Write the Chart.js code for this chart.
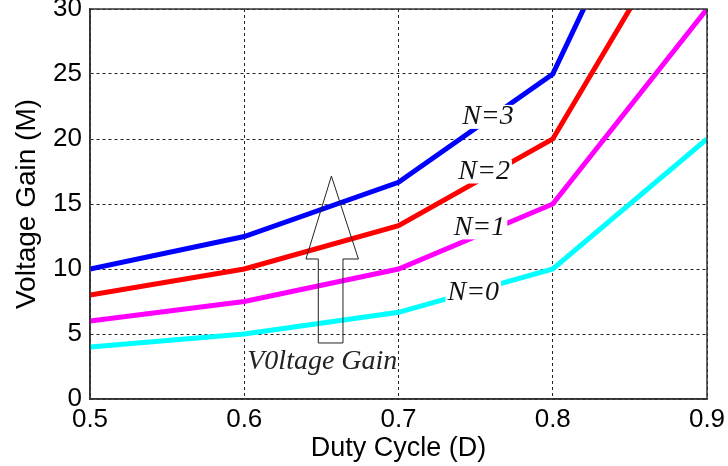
<!DOCTYPE html>
<html>
<head>
<meta charset="utf-8">
<script src="https://cdn.jsdelivr.net/npm/chart.js@4"></script>
<style>
  body { margin: 0; background: #fff; }
  #box { width: 728px; height: 466px; }
</style>
</head>
<body>
<div id="box"><canvas id="grafico"></canvas></div>
<script>
const duty = [0.5, 0.6, 0.7, 0.8, 0.9];
const gainN0 = [4, 5, 6.67, 10, 20];
const gainN1 = [6, 7.5, 10, 15, 30];
const gainN2 = [8, 10, 13.33, 20, 40];
const gainN3 = [10, 12.5, 16.67, 25, 50];
const seriesNames = ['N=0', 'N=1', 'N=2', 'N=3'];
const xTicks = [0.5, 0.6, 0.7, 0.8, 0.9];
const yTicks = [0, 5, 10, 15, 20, 25, 30];
const arrowText = 'V0ltage Gain';

const cores = ['#00ffff', '#ff00ff', '#ff0000', '#0000ff'];
// where the N=.. labels sit, in data units
const labelPos = [[0.7485, 8.2], [0.7525, 13.2], [0.7555, 17.5], [0.758, 21.7]];

const pontos = ys => duty.map((d, i) => ({ x: d, y: ys[i] }));

// frame, N labels and the big arrow
const extras = {
  id: 'extras',
  afterDatasetsDraw(chart) {
    const { ctx, chartArea: a, scales: { x, y } } = chart;
    ctx.save();

    ctx.strokeStyle = '#333';
    ctx.lineWidth = 1.5;
    ctx.setLineDash([]);
    ctx.strokeRect(a.left, a.top, a.right - a.left, a.bottom - a.top);

    ctx.font = 'italic 28px "Liberation Serif"';
    ctx.textAlign = 'center';
    ctx.textBaseline = 'middle';
    seriesNames.forEach((t, i) => {
      const px = x.getPixelForValue(labelPos[i][0]);
      const py = y.getPixelForValue(labelPos[i][1]);
      const w = ctx.measureText(t).width;
      ctx.fillStyle = '#fff';
      ctx.fillRect(px - w / 2 - 2, py - 12, w + 4, 24);
      ctx.fillStyle = '#111';
      ctx.fillText(t, px, py);
    });

    // arrow outline
    const seta = [[0.6565, 17.15], [0.674, 10.77], [0.664, 10.77], [0.664, 4.31],
                  [0.648, 4.31], [0.648, 10.77], [0.640, 10.77]];
    ctx.beginPath();
    seta.forEach((p, i) => {
      const px = x.getPixelForValue(p[0]), py = y.getPixelForValue(p[1]);
      if (i === 0) ctx.moveTo(px, py); else ctx.lineTo(px, py);
    });
    ctx.closePath();
    ctx.strokeStyle = '#222';
    ctx.lineWidth = 1;
    ctx.stroke();

    ctx.fillStyle = '#222';
    ctx.fillText(arrowText, x.getPixelForValue(0.6506), y.getPixelForValue(2.85));
    ctx.restore();
  }
};

new Chart(document.getElementById('grafico'), {
  type: 'line',
  data: {
    datasets: [gainN0, gainN1, gainN2, gainN3].map((g, i) => ({
      label: seriesNames[i],
      data: pontos(g),
      borderColor: cores[i],
      backgroundColor: cores[i],
      borderWidth: 5,
      pointRadius: 0,
      tension: 0
    }))
  },
  options: {
    responsive: true,
    maintainAspectRatio: false,
    animation: false,
    layout: { padding: { top: 9, right: 21 } },
    plugins: { legend: { display: false }, tooltip: { enabled: false } },
    scales: {
      x: {
        type: 'linear',
        min: 0.5,
        max: 0.9,
        afterBuildTicks: s => { s.ticks = xTicks.map(v => ({ value: v })); },
        afterFit: s => { s.height = 67; s.paddingRight = 0; s.paddingLeft = 0; },
        grid: { color: '#222', lineWidth: 1, drawTicks: false },
        border: { display: true, color: '#333', width: 1.5, dash: [3, 3] },
        ticks: {
          padding: 5,
          color: '#000',
          font: { family: '"Liberation Sans", Arial', size: 26 },
          callback: v => v.toFixed(1)
        },
        title: {
          display: true,
          text: 'Duty Cycle (D)',
          color: '#000',
          font: { family: '"Liberation Sans", Arial', size: 27 },
          padding: { top: 0, bottom: 1 }
        }
      },
      y: {
        min: 0,
        max: 30,
        afterBuildTicks: s => { s.ticks = yTicks.map(v => ({ value: v })); },
        afterFit: s => { s.width = 90; s.paddingTop = 0; s.paddingBottom = 0; },
        grid: { color: '#222', lineWidth: 1, drawTicks: false },
        border: { display: true, color: '#333', width: 1.5, dash: [3, 3] },
        ticks: {
          padding: 8,
          color: '#000',
          font: { family: '"Liberation Sans", Arial', size: 26 }
        },
        title: {
          display: true,
          text: 'Voltage Gain (M)',
          color: '#000',
          font: { family: '"Liberation Sans", Arial', size: 28 },
          padding: { top: 10, bottom: 0 }
        }
      }
    }
  },
  plugins: [extras]
});
</script>
</body>
</html>
